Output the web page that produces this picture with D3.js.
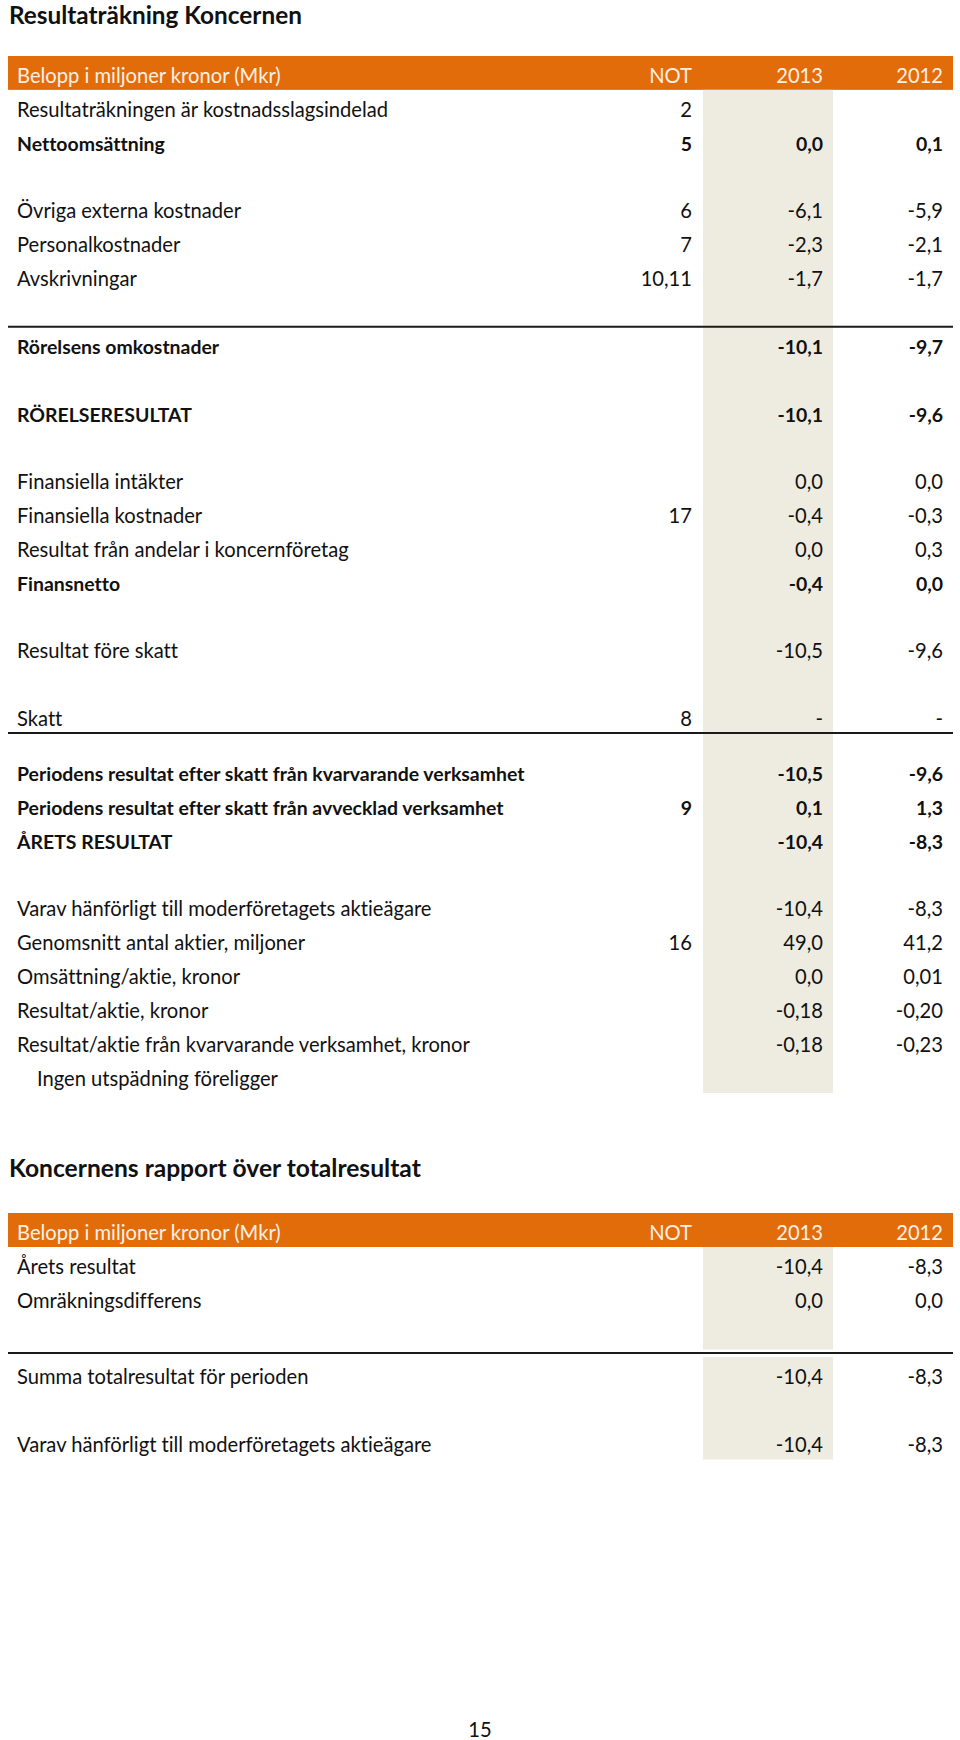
<!DOCTYPE html>
<html>
<head>
<meta charset="utf-8">
<script src="https://cdn.jsdelivr.net/npm/d3@7/dist/d3.min.js"></script>
<style>
  body { margin: 0; background: #fff; }
  svg { display: block; }
  text { font-family: Lato, "Open Sans", sans-serif; font-variant-ligatures: none; font-feature-settings: "liga" 0, "clig" 0; }
</style>
</head>
<body>
<svg id="page"></svg>
<script>
const title = "Resultaträkning Koncernen"
const title2 = "Koncernens rapport över totalresultat"
const headers = ["Belopp i miljoner kronor (Mkr)", "NOT", "2013", "2012"]
const pageNumber = "15"

// "" = empty row, null = thin spacer row
const mainLabels = [
  "Resultaträkningen är kostnadsslagsindelad", "Nettoomsättning", "",
  "Övriga externa kostnader", "Personalkostnader", "Avskrivningar", "",
  "Rörelsens omkostnader", "", "RÖRELSERESULTAT", "",
  "Finansiella intäkter", "Finansiella kostnader", "Resultat från andelar i koncernföretag", "Finansnetto", "",
  "Resultat före skatt", "", "Skatt", null,
  "Periodens resultat efter skatt från kvarvarande verksamhet", "Periodens resultat efter skatt från avvecklad verksamhet", "ÅRETS RESULTAT", "",
  "Varav hänförligt till moderföretagets aktieägare", "Genomsnitt antal aktier, miljoner", "Omsättning/aktie, kronor",
  "Resultat/aktie, kronor", "Resultat/aktie från kvarvarande verksamhet, kronor", "Ingen utspädning föreligger"]
const mainNotes = ["2", "5", "", "6", "7", "10,11", "", "", "", "", "", "", "17", "", "", "",
  "", "", "8", null, "", "9", "", "", "", "16", "", "", "", ""]
const main2013 = ["", "0,0", "", "-6,1", "-2,3", "-1,7", "", "-10,1", "", "-10,1", "", "0,0", "-0,4", "0,0", "-0,4", "",
  "-10,5", "", "-", null, "-10,5", "0,1", "-10,4", "", "-10,4", "49,0", "0,0", "-0,18", "-0,18", ""]
const main2012 = ["", "0,1", "", "-5,9", "-2,1", "-1,7", "", "-9,7", "", "-9,6", "", "0,0", "-0,3", "0,3", "0,0", "",
  "-9,6", "", "-", null, "-9,6", "1,3", "-8,3", "", "-8,3", "41,2", "0,01", "-0,20", "-0,23", ""]
const mainRules = [6, 18]

const totalLabels = ["Årets resultat", "Omräkningsdifferens", "", null, "Summa totalresultat för perioden", "", "Varav hänförligt till moderföretagets aktieägare"]
const totalNotes = ["", "", "", null, "", "", ""]
const total2013 = ["-10,4", "0,0", "", null, "-10,4", "", "-10,4"]
const total2012 = ["-8,3", "0,0", "", null, "-8,3", "", "-8,3"]
const totalRules = [3]

const boldRows = ["Nettoomsättning", "Rörelsens omkostnader", "RÖRELSERESULTAT", "Finansnetto",
  "Periodens resultat efter skatt från kvarvarande verksamhet",
  "Periodens resultat efter skatt från avvecklad verksamhet", "ÅRETS RESULTAT"]
const indentRows = ["Ingen utspädning föreligger"]

const W = 960, H = 1740
const orange = "#e36c0a", beige = "#eeece1", ink = "#111"
const svg = d3.select("#page").attr("width", W).attr("height", H)

// pick font sizes so that widths match the original layout
function fitSize(str, weight, target) {
  let t = svg.append("text").attr("font-size", 100).attr("font-weight", weight).text(str)
  let w = t.node().getComputedTextLength()
  t.remove()
  return 100 * target / w
}
const bodySize = fitSize(headers[0], 400, 264)
const boldSize = fitSize(mainLabels[20], 700, 508)
const titleSize = fitSize(title, 700, 293)
const title2Size = fitSize(title2, 700, 412)

const x = d3.scaleOrdinal().domain(["label", "note", "y2013", "y2012"]).range([17, 692, 823, 943])
const left = 8, right = 953, beigeX = [703, 833]

svg.append("text").attr("x", 9).attr("y", 24).attr("font-size", titleSize).attr("font-weight", 700)
  .attr("fill", ink).text(title)
svg.append("text").attr("x", 9).attr("y", 1177).attr("font-size", title2Size).attr("font-weight", 700)
  .attr("fill", ink).text(title2)
svg.append("text").attr("x", 480).attr("y", 1737).attr("text-anchor", "middle").attr("font-size", bodySize)
  .attr("fill", ink).text(pageNumber)

function drawTable(top, rowH, spacerH, fillSpacer, labels, notes, v13, v12, rules) {
  let g = svg.append("g")
  let rows = labels.map((l, i) => ({label: l, note: notes[i], v13: v13[i], v12: v12[i], i: i}))
  let heights = rows.map(r => r.label === null ? spacerH : rowH)
  let tops = [0, ...d3.cumsum(heights)]
  let y = d3.scaleLinear().domain([0, 1]).range([top + rowH, top + rowH + 1])
  rows.forEach(r => { r.top = y(tops[r.i]); r.h = heights[r.i] })

  // header bar
  g.append("rect").attr("x", left).attr("y", top).attr("width", right - left).attr("height", rowH).attr("fill", orange)
  g.selectAll(".head").data(headers).join("text")
    .attr("x", (d, i) => x(x.domain()[i]))
    .attr("y", top + 27)
    .attr("text-anchor", (d, i) => i ? "end" : "start")
    .attr("font-size", bodySize)
    .attr("fill", "#fdf1e6")
    .text(d => d)

  // shaded 2013 column
  g.selectAll(".shade").data(rows.filter(r => r.label !== null || fillSpacer)).join("rect")
    .attr("x", beigeX[0]).attr("width", beigeX[1] - beigeX[0])
    .attr("y", r => r.top).attr("height", r => r.h + 0.5)
    .attr("fill", beige)

  // rules
  g.selectAll(".rule").data(rules).join("line")
    .attr("x1", left).attr("x2", right)
    .attr("y1", i => rows[i].label === null ? rows[i].top + rows[i].h / 2 : rows[i].top + rows[i].h)
    .attr("y2", i => rows[i].label === null ? rows[i].top + rows[i].h / 2 : rows[i].top + rows[i].h)
    .attr("stroke", "#1a1a1a").attr("stroke-width", 2)

  let textRows = rows.filter(r => r.label !== null)
  let cells = []
  textRows.forEach(r => {
    let bold = boldRows.includes(r.label)
    cells.push({t: r.label, col: "label", r: r, bold: bold, indent: indentRows.includes(r.label)})
    cells.push({t: r.note, col: "note", r: r, bold: bold})
    cells.push({t: r.v13, col: "y2013", r: r, bold: bold})
    cells.push({t: r.v12, col: "y2012", r: r, bold: bold})
  })
  g.selectAll(".cell").data(cells.filter(c => c.t)).join("text")
    .attr("x", c => x(c.col) + (c.indent ? 20 : 0))
    .attr("y", c => c.r.top + 27)
    .attr("text-anchor", c => c.col === "label" ? "start" : "end")
    .attr("font-size", c => c.bold ? boldSize : bodySize)
    .attr("font-weight", c => c.bold ? 700 : 400)
    .attr("fill", ink)
    .text(c => c.t)
}

drawTable(56, 33.85, 21, true, mainLabels, mainNotes, main2013, main2012, mainRules)
drawTable(1213, 34, 8, false, totalLabels, totalNotes, total2013, total2012, totalRules)
</script>
</body>
</html>
